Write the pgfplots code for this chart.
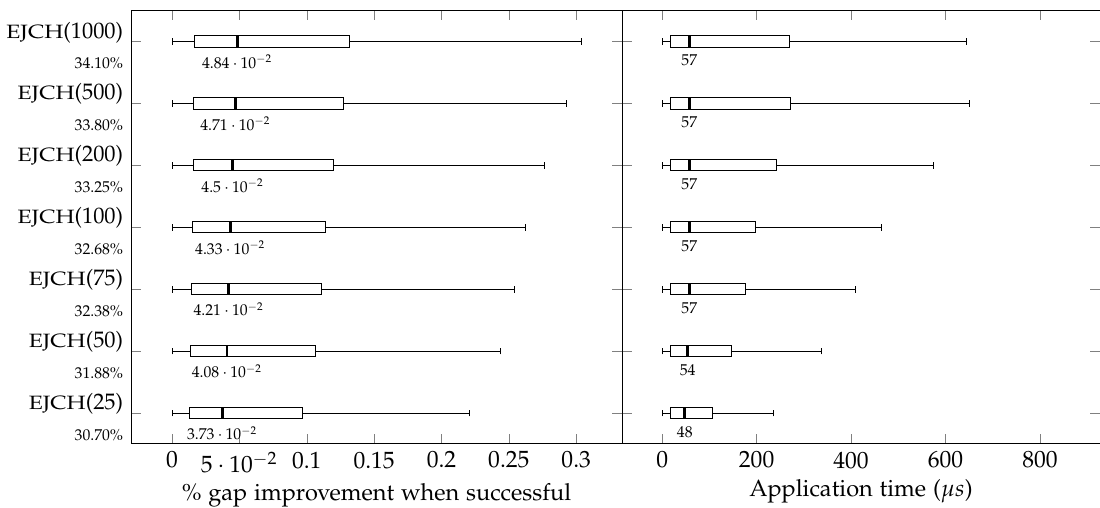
\documentclass[border=0pt]{standalone}
\usepackage[T1]{fontenc}
\usepackage[sc]{mathpazo}
\usepackage{graphicx}
\usepackage{pgfplots}
\pgfplotsset{compat=1.18}
\usepgfplotslibrary{statistics}
\newcommand{\HB}[6]{\addplot[draw=black, solid, boxplot prepared={draw direction=x, box extend=0.18, whisker extend=0.11, every median/.style={line width=1.2pt}, draw position=#1, lower whisker=#2, lower quartile=#3, median=#4, upper quartile=#5, upper whisker=#6}] coordinates {};}
\newcommand{\EJ}[2]{\begin{tabular}{@{}r@{}}\scalebox{1.19}[1]{\fontsize{8.6pt}{10pt}\selectfont EJCH}(#1)\\[1.7pt]{\scriptsize #2\%}\end{tabular}}
\pgfplotsset{
  medlab/.style={draw=none, mark=none, nodes near coords, point meta=explicit symbolic,
    every node near coord/.append style={anchor=north, font=\scriptsize, yshift=-2.5pt, black}},
  every axis label/.append style={font=\fontsize{10.5pt}{12pt}\selectfont},
  every axis x label/.append style={yshift=2pt},
  xticklabel style={font=\fontsize{10.5pt}{12pt}\selectfont},
}
\begin{document}
\begin{tikzpicture}
\begin{axis}[name=L, scale only axis, width=219.2pt, height=193.5pt,
  xmin=-0.0304, xmax=0.334, ymin=0.5, ymax=7.5,
  ytick={1,2,3,4,5,6,7},
  yticklabels={{\EJ{25}{30.70}},
               {\EJ{50}{31.88}},
               {\EJ{75}{32.38}},
               {\EJ{100}{32.68}},
               {\EJ{200}{33.25}},
               {\EJ{500}{33.80}},
               {\EJ{1000}{34.10}}},
  yticklabel style={yshift=-2.9pt},
  xtick={0,0.05,0.1,0.15,0.2,0.25,0.3},
  xlabel={\% gap improvement when successful}]
\HB{7}{0}{0.0166}{0.0484}{0.1315}{0.3036}
\HB{6}{0}{0.0161}{0.0471}{0.1270}{0.2929}
\HB{5}{0}{0.0159}{0.0450}{0.1200}{0.2763}
\HB{4}{0}{0.0151}{0.0433}{0.1138}{0.2622}
\HB{3}{0}{0.0146}{0.0421}{0.1110}{0.2545}
\HB{2}{0}{0.0140}{0.0408}{0.1065}{0.2440}
\HB{1}{0}{0.0131}{0.0373}{0.0965}{0.2210}
\addplot[medlab] coordinates {
  (0.0484,7) [$4.84\cdot10^{-2}$]
  (0.0471,6) [$4.71\cdot10^{-2}$]
  (0.0450,5) [$4.5\cdot10^{-2}$]
  (0.0433,4) [$4.33\cdot10^{-2}$]
  (0.0421,3) [$4.21\cdot10^{-2}$]
  (0.0408,2) [$4.08\cdot10^{-2}$]
  (0.0373,1) [$3.73\cdot10^{-2}$]
};
\end{axis}
\begin{axis}[name=R, at={(L.south east)}, anchor=south west,
  scale only axis, width=213.4pt, height=193.5pt,
  xmin=-85, xmax=927, ymin=0.5, ymax=7.5,
  ytick={1,2,3,4,5,6,7}, yticklabels={},
  xtick={0,200,400,600,800},
  xlabel={Application time ($\mu s$)}]
\HB{7}{0.6}{17.6}{57.5}{270}{645}
\HB{6}{0.6}{17.6}{57.5}{272}{650}
\HB{5}{0.6}{17.6}{57.5}{242}{575}
\HB{4}{0.6}{17.6}{57.5}{197.5}{465}
\HB{3}{0.6}{17.6}{57.5}{176}{410}
\HB{2}{0.6}{17.6}{54}{147}{338}
\HB{1}{0.6}{17.6}{48}{106}{236}
\addplot[medlab] coordinates {
  (57.5,7) [57]
  (57.5,6) [57]
  (57.5,5) [57]
  (57.5,4) [57]
  (57.5,3) [57]
  (54,2) [54]
  (48,1) [48]
};
\end{axis}
\pgfresetboundingbox
\path ([xshift=-58.5pt,yshift=-28.6pt]L.south west) rectangle ([yshift=4.7pt]R.north east);
\end{tikzpicture}
\end{document}
